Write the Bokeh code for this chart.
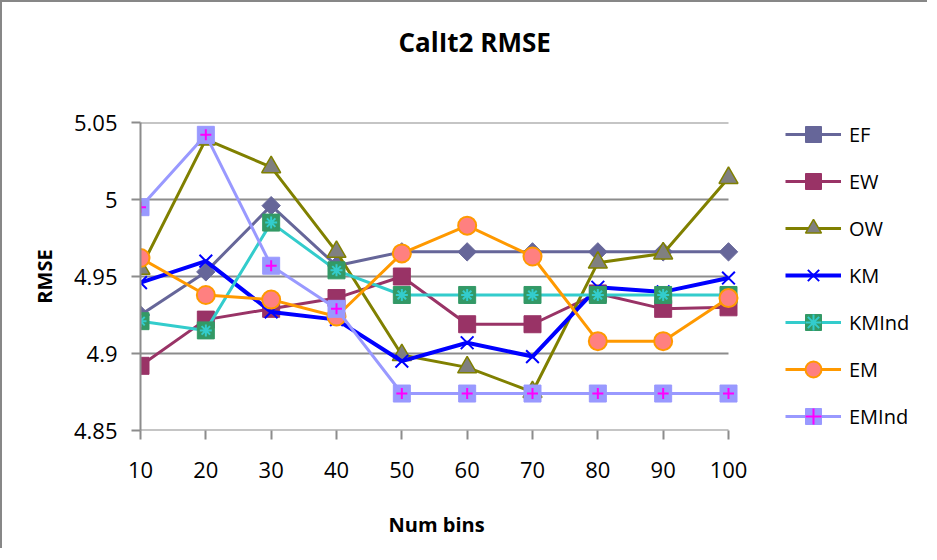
import math
from bokeh.plotting import figure
from bokeh.models import Range1d, FixedTicker, Legend, LegendItem, Title
from bokeh.embed import file_html
from bokeh.resources import INLINE

bins = [10, 20, 30, 40, 50, 60, 70, 80, 90, 100]
EF = [4.925, 4.953, 4.996, 4.957, 4.966, 4.966, 4.966, 4.966, 4.966, 4.966]
EW = [4.892, 4.922, 4.929, 4.936, 4.950, 4.919, 4.919, 4.939, 4.929, 4.930]
OW = [4.955, 5.039, 5.021, 4.966, 4.899, 4.891, 4.875, 4.959, 4.965, 5.014]
KM = [4.946, 4.960, 4.927, 4.922, 4.895, 4.907, 4.898, 4.943, 4.940, 4.949]
KMInd = [4.921, 4.915, 4.985, 4.954, 4.938, 4.938, 4.938, 4.938, 4.938, 4.938]
EM = [4.962, 4.938, 4.935, 4.924, 4.965, 4.983, 4.963, 4.908, 4.908, 4.936]
EMInd = [4.995, 5.042, 4.957, 4.929, 4.874, 4.874, 4.874, 4.874, 4.874, 4.874]
y_ticks = [4.85, 4.9, 4.95, 5.0, 5.05]
y_tick_labels = ["4.85", "4.9", "4.95", "5", "5.05"]
title_text = "CalIt2 RMSE"
x_title = "Num bins"
y_title = "RMSE"

FONT = "Open Sans"
GRID = "#8c8c8c"

W, H = 927, 548
LEFT, TOP, BOTTOM, RIGHT = 138, 120, 120, 8
DATA_W = 588  # pixel width of the 10..100 span
frame_w = W - LEFT - RIGHT
x_end = bins[0] + (bins[-1] - bins[0]) * frame_w / DATA_W

p = figure(width=W, height=H, output_backend="svg", toolbar_location=None,
           x_range=Range1d(bins[0], x_end), y_range=Range1d(y_ticks[0], y_ticks[-1]),
           min_border_left=LEFT, min_border_right=RIGHT, min_border_top=TOP,
           min_border_bottom=BOTTOM, title=None)
p.styles = {"border-left": "2px solid #878787", "border-top": "2px solid #878787"}

# title (spacer between the frame and the title)
p.add_layout(Title(text=" ", text_font_size="10px", standoff=48, text_color="white"), "above")
p.add_layout(Title(text=title_text, text_font=FONT, text_font_size="26px",
                   text_font_style="bold", text_color="black", align="left",
                   offset=258, standoff=0, vertical_align="top"), "above")

p.outline_line_color = None
p.xgrid.visible = False
p.ygrid.visible = False

# horizontal gridlines spanning only the category range
p.segment(x0=[bins[0]] * len(y_ticks), x1=[bins[-1]] * len(y_ticks),
          y0=y_ticks, y1=y_ticks, line_color=GRID, line_width=2)

for ax in (p.xaxis[0], p.yaxis[0]):
    ax.axis_line_color = GRID
    ax.axis_line_width = 2
    ax.major_tick_line_color = GRID
    ax.major_tick_line_width = 2
    ax.major_tick_in = 0
    ax.major_tick_out = 9
    ax.minor_tick_line_color = None
    ax.major_label_text_font = FONT
    ax.major_label_text_font_size = "22px"
    ax.major_label_text_color = "black"
    ax.axis_label_text_font = FONT
    ax.axis_label_text_font_size = "20px"
    ax.axis_label_text_font_style = "bold"
    ax.axis_label_text_color = "black"

p.xaxis.axis_line_color = None
p.xaxis.ticker = FixedTicker(ticks=bins)
p.xaxis.major_label_standoff = 22

p.add_layout(Title(text=" ", text_font_size="10px", standoff=17, text_color="white"), "below")
p.add_layout(Title(text=x_title, text_font=FONT, text_font_size="20px",
                   text_font_style="bold", text_color="black", align="left",
                   offset=248, standoff=0, vertical_align="top"), "below")

p.yaxis.ticker = FixedTicker(ticks=y_ticks)
p.yaxis.major_label_overrides = {t: s for t, s in zip(y_ticks, y_tick_labels)}
p.yaxis.major_label_standoff = 14
p.yaxis.axis_label = y_title
p.yaxis.axis_label_standoff = 13

items = []

def add(name, ys, color, width, marks):
    rs = [p.line(bins, ys, line_color=color, line_width=width)]
    for m in marks:
        rs.append(p.scatter(bins, ys, **m))
    items.append(LegendItem(label=name, renderers=rs))

add("EF", EF, "#666699", 3,
    [dict(marker="square", size=13, angle=math.pi / 4, fill_color="#666699", line_color="#666699")])
add("EW", EW, "#993366", 3,
    [dict(marker="square", size=17, fill_color="#993366", line_color="#993366")])
add("OW", OW, "#808000", 3,
    [dict(marker="triangle", size=19, fill_color="#808080", line_color="#808000", line_width=1.5)])
add("KM", KM, "#0000FF", 4,
    [dict(marker="x", size=18, line_color="#0000FF", line_width=2)])
add("KMInd", KMInd, "#33CCCC", 3,
    [dict(marker="square", size=17, fill_color="#339966", line_color="#339966"),
     dict(marker="asterisk", size=12, line_color="#33CCCC", line_width=2)])
add("EM", EM, "#FF9900", 3,
    [dict(marker="circle", size=18, fill_color="#FF8080", line_color="#FF9900", line_width=2)])
add("EMInd", EMInd, "#9999FF", 3,
    [dict(marker="square", size=17, fill_color="#9999FF", line_color="#9999FF"),
     dict(marker="cross", size=11, line_color="#FF00FF", line_width=2)])

legend = Legend(items=items, location=(645, -6), orientation="vertical",
                glyph_width=56, glyph_height=40, label_height=40, spacing=7,
                padding=0, margin=0, border_line_color=None,
                background_fill_alpha=0, label_text_font=FONT,
                label_text_font_size="20px", label_standoff=8,
                label_text_color="black")
p.add_layout(legend)

open("out.html", "w").write(file_html(p, INLINE))
